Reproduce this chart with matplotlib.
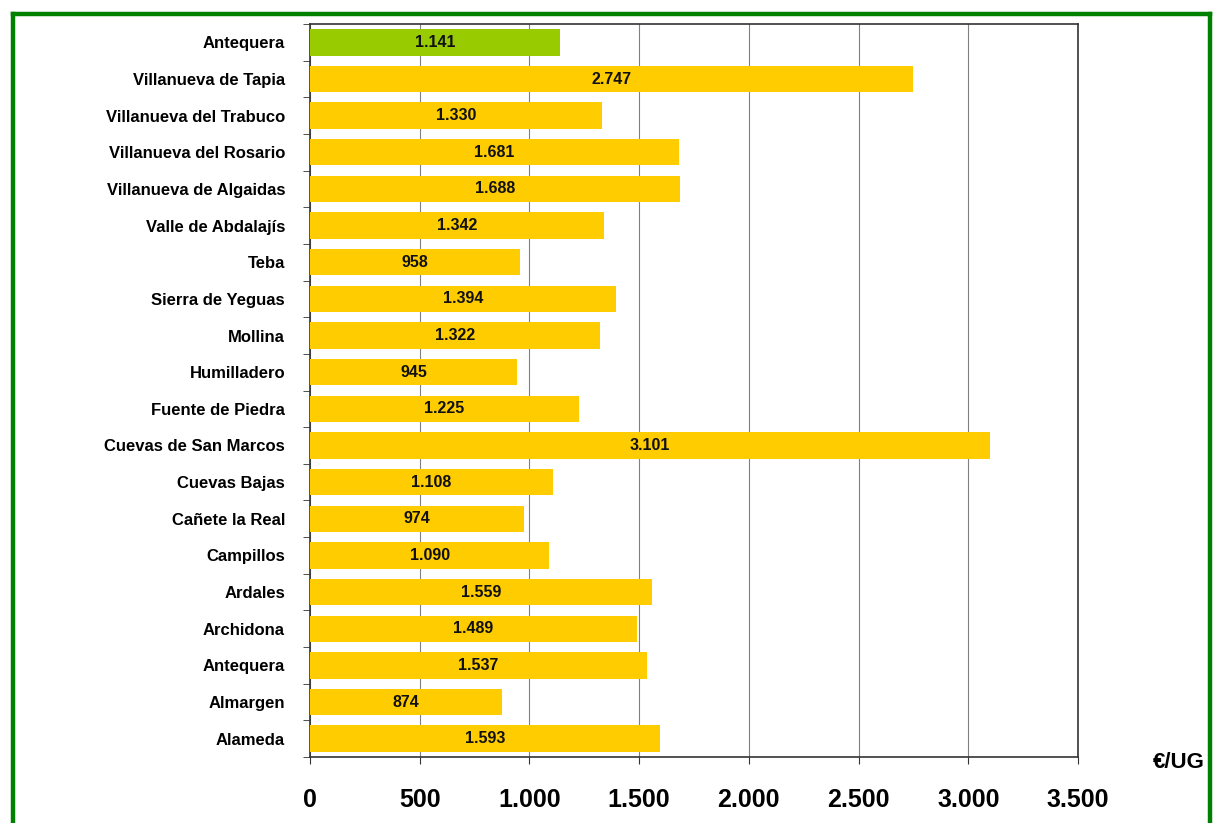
import numpy as np
import matplotlib.pyplot as plt
from matplotlib.lines import Line2D
from matplotlib.ticker import FuncFormatter, MultipleLocator, FixedLocator

municipios = ['Antequera', 'Villanueva de Tapia', 'Villanueva del Trabuco',
              'Villanueva del Rosario', 'Villanueva de Algaidas', 'Valle de Abdalajís',
              'Teba', 'Sierra de Yeguas', 'Mollina', 'Humilladero', 'Fuente de Piedra',
              'Cuevas de San Marcos', 'Cuevas Bajas', 'Cañete la Real', 'Campillos',
              'Ardales', 'Archidona', 'Antequera', 'Almargen', 'Alameda']
valores = [1141, 2747, 1330, 1681, 1688, 1342, 958, 1394, 1322, 945,
           1225, 3101, 1108, 974, 1090, 1559, 1489, 1537, 874, 1593]
colores = ['#99CC00'] + ['#FFCC00'] * (len(valores) - 1)


def miles(v, pos=None):
    return f'{int(v):,}'.replace(',', '.')


plt.rcParams['font.family'] = ['Liberation Sans', 'DejaVu Sans']
estrecha = ['Liberation Sans Narrow', 'Liberation Sans', 'DejaVu Sans']

fig = plt.figure(figsize=(12.13, 8.23), dpi=100)
ax = fig.add_axes([0.2556, 0.0802, 0.6331, 0.8906])

y = np.arange(len(valores))
ax.barh(y, valores, height=0.72, color=colores, zorder=3)
for yi, v in zip(y, valores):
    ax.text(v / 2, yi, miles(v), ha='center', va='center', family=estrecha,
            fontsize=11.5, fontweight='bold', color='#111111', zorder=4)

ax.set_ylim(len(valores) - 0.5, -0.5)
ax.set_xlim(0, 3500)
ax.set_yticks(y)
ax.set_yticklabels(municipios, fontsize=12, fontweight='bold')
ax.yaxis.set_minor_locator(FixedLocator(np.arange(-0.5, len(valores), 1)))
ax.tick_params(axis='y', which='major', length=0, pad=18)
ax.tick_params(axis='y', which='minor', length=5, color='#333333')

ax.xaxis.set_major_locator(MultipleLocator(500))
ax.xaxis.set_major_formatter(FuncFormatter(miles))
ax.tick_params(axis='x', length=5, color='#333333', pad=17)
for lbl in ax.get_xticklabels():
    lbl.set_fontweight('bold')
    lbl.set_family(estrecha)
    lbl.set_fontsize(18)

ax.grid(axis='x', color='#808080', linewidth=0.8, zorder=0)
for s in ax.spines.values():
    s.set_color('#333333')
    s.set_linewidth(1.2)

fig.text(0.9715, 0.074, '€/UG', ha='center', va='center', family=estrecha,
         fontsize=16, fontweight='bold')

# marco verde
verde = '#008000'
fig.add_artist(Line2D([0.0108, 0.0108], [-0.01, 0.9835], color=verde, linewidth=3.2))
fig.add_artist(Line2D([0.0108, 0.9975], [0.9835, 0.9835], color=verde, linewidth=3.2))
fig.add_artist(Line2D([0.9975, 0.9975], [-0.01, 0.9835], color=verde, linewidth=3.2))

fig.savefig('out.png', dpi=100)
